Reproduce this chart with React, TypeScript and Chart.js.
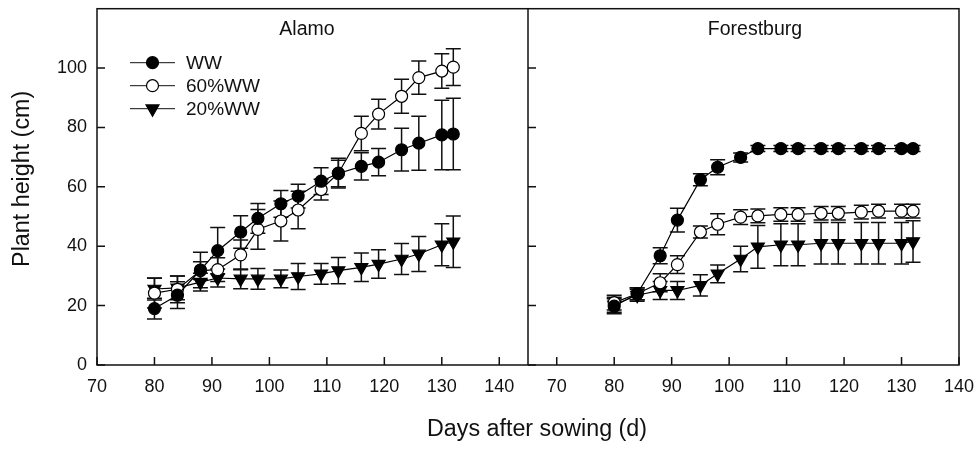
import React, { useEffect, useRef } from 'react';
import { Chart, registerables } from 'chart.js';

Chart.register(...registerables);

const days = [80, 84, 88, 91, 95, 98, 102, 105, 109, 112, 116, 119, 123, 126, 130, 132];
const xTicks = [70, 80, 90, 100, 110, 120, 130, 140];
const yTicks = [0, 20, 40, 60, 80, 100];
const seriesNames = ['WW', '60%WW', '20%WW'];
const panelNames = ['Alamo', 'Forestburg'];

// Alamo
const alamoWW = [19.0, 23.5, 32.0, 38.5, 44.8, 49.4, 54.3, 56.9, 61.9, 64.5, 66.9, 68.3, 72.5, 74.7, 77.5, 77.8];
const alamoWWErr = [3.5, 4.5, 6, 7.8, 5.5, 5, 4.5, 4, 4.5, 4.5, 4.6, 4.6, 7.2, 9.1, 11.7, 12];
const alamo60 = [24.2, 25.5, 31.8, 32.1, 37.1, 45.7, 48.5, 52.2, 59.1, 64.6, 78.0, 84.5, 90.5, 96.8, 99.0, 100.3];
const alamo60Err = [5, 4.5, 3, 4, 5, 6.7, 6.7, 6.3, 3.5, 5, 5.8, 5, 5.7, 5.6, 5.8, 6.2];
const alamo20 = [25.6, 26.0, 27.9, 29.3, 29.0, 29.0, 29.0, 29.8, 30.7, 31.8, 32.9, 34.0, 35.7, 37.4, 40.5, 41.5];
const alamo20Err = [3.7, 4, 3, 3, 3.3, 3.5, 3, 4.4, 3.5, 4.4, 4.8, 4.8, 5.2, 5.9, 7.1, 8.7];

// Forestburg
const forWW = [19.8, 24.0, 36.8, 48.8, 62.4, 66.6, 69.9, 72.9, 72.9, 72.9, 72.9, 72.9, 72.9, 72.9, 72.9, 72.9];
const forWWErr = [2.5, 2, 2.7, 4, 2, 2.5, 1.5, 1, 1, 1, 1, 1, 1, 1, 1, 1];
const for60 = [21.0, 24.0, 27.7, 33.8, 44.8, 47.4, 49.8, 50.2, 50.7, 50.7, 51.1, 51.1, 51.5, 51.8, 51.8, 51.8];
const for60Err = [2.5, 2, 3, 3, 2, 3.5, 2.5, 2.3, 2.3, 2.3, 2.3, 2.3, 2.3, 2.3, 2.3, 2.3];
const for20 = [20.3, 23.5, 25.1, 25.1, 26.8, 30.7, 35.7, 39.8, 40.5, 40.5, 41.0, 41.0, 41.0, 41.0, 41.0, 41.6];
const for20Err = [2.5, 2, 3, 3, 3.6, 3, 4.3, 7.2, 7.1, 7.1, 7, 7, 7, 7, 7, 7];

const FONT = "'Liberation Sans', Arial, sans-serif";
const INK = '#111';

type Style = { fill: string; shape: 'circle' | 'tri' };
const styles: Style[] = [
  { fill: '#000', shape: 'circle' },
  { fill: '#fff', shape: 'circle' },
  { fill: '#000', shape: 'tri' },
];

function drawMarker(ctx: CanvasRenderingContext2D, x: number, y: number, s: Style) {
  ctx.save();
  ctx.beginPath();
  if (s.shape === 'circle') {
    ctx.arc(x, y, 6, 0, Math.PI * 2);
  } else {
    const r = 7.5;
    ctx.moveTo(x, y + r);
    ctx.lineTo(x - r * Math.sin(Math.PI / 3), y - r / 2);
    ctx.lineTo(x + r * Math.sin(Math.PI / 3), y - r / 2);
    ctx.closePath();
  }
  ctx.fillStyle = s.fill;
  ctx.fill();
  ctx.lineWidth = 1.2;
  ctx.strokeStyle = '#000';
  ctx.stroke();
  ctx.restore();
}

const framePlugin = {
  id: 'framePlugin',
  beforeDatasetsDraw(chart: any) {
    const ctx: CanvasRenderingContext2D = chart.ctx;
    const y = chart.scales.y;
    ctx.save();
    ctx.strokeStyle = INK;
    ctx.lineWidth = 1.5;
    chart.data.datasets.forEach((ds: any) => {
      const xs = chart.scales[ds.xAxisID];
      ds.data.forEach((p: any, i: number) => {
        const e = ds.errors[i];
        const px = xs.getPixelForValue(p.x);
        const yt = y.getPixelForValue(p.y + e);
        const yb = y.getPixelForValue(p.y - e);
        ctx.beginPath();
        ctx.moveTo(px, yt);
        ctx.lineTo(px, yb);
        ctx.moveTo(px - 7.5, yt);
        ctx.lineTo(px + 7.5, yt);
        ctx.moveTo(px - 7.5, yb);
        ctx.lineTo(px + 7.5, yb);
        ctx.stroke();
      });
    });
    ctx.restore();
  },
  afterDraw(chart: any) {
    const ctx: CanvasRenderingContext2D = chart.ctx;
    const { left, right, top, bottom } = chart.chartArea;
    const xL = chart.scales.xL;
    const xR = chart.scales.xR;
    const y = chart.scales.y;
    const mid = xL.right;
    ctx.save();
    ctx.strokeStyle = INK;
    ctx.lineWidth = 1.5;
    ctx.strokeRect(left, top, right - left, bottom - top);
    ctx.beginPath();
    ctx.moveTo(mid, top);
    ctx.lineTo(mid, bottom);
    // inward y ticks
    yTicks.forEach((v) => {
      const py = y.getPixelForValue(v);
      ctx.moveTo(left, py);
      ctx.lineTo(left + 8, py);
      ctx.moveTo(mid, py);
      ctx.lineTo(mid + 8, py);
    });
    // inward x ticks
    [xL, xR].forEach((s: any) => {
      xTicks.forEach((v) => {
        const px = s.getPixelForValue(v);
        ctx.moveTo(px, bottom);
        ctx.lineTo(px, bottom - 8);
      });
    });
    ctx.stroke();

    // panel titles
    ctx.fillStyle = INK;
    ctx.font = `19.5px ${FONT}`;
    ctx.textAlign = 'center';
    ctx.textBaseline = 'middle';
    ctx.fillText(panelNames[0], left + 210, top + 21);
    ctx.fillText(panelNames[1], mid + 227, top + 21);

    // legend
    ctx.font = `19px ${FONT}`;
    ctx.textAlign = 'left';
    seriesNames.forEach((name, i) => {
      const ly = top + 54 + i * 23;
      ctx.beginPath();
      ctx.lineWidth = 1;
      ctx.moveTo(left + 33, ly);
      ctx.lineTo(left + 78, ly);
      ctx.stroke();
      drawMarker(ctx, left + 55.5, ly, styles[i]);
      ctx.fillStyle = INK;
      ctx.fillText(name, left + 89, ly + 1);
    });

    // axis titles
    ctx.font = `23.3px ${FONT}`;
    ctx.textAlign = 'center';
    ctx.textBaseline = 'middle';
    ctx.fillText('Days after sowing (d)', (left + right) / 2 + 9, 430);
    ctx.save();
    ctx.translate(23, (top + bottom) / 2 - 8);
    ctx.rotate(-Math.PI / 2);
    ctx.fillText('Plant height (cm)', 0, 0);
    ctx.restore();
    ctx.restore();
  },
};

function makeDataset(label: string, values: number[], errors: number[], axis: string, s: Style) {
  return {
    label,
    data: days.map((d, i) => ({ x: d, y: values[i] })),
    errors,
    xAxisID: axis,
    yAxisID: 'y',
    borderColor: '#000',
    borderWidth: 1.2,
    pointStyle: s.shape === 'circle' ? 'circle' : 'triangle',
    pointRotation: s.shape === 'circle' ? 0 : 180,
    pointRadius: s.shape === 'circle' ? 6 : 7.5,
    pointBackgroundColor: s.fill,
    pointBorderColor: '#000',
    pointBorderWidth: 1.2,
    fill: false,
    tension: 0,
  };
}

function zeroPadding(s: any) {
  s.paddingTop = 0;
  s.paddingBottom = 0;
  s.paddingLeft = 0;
  s.paddingRight = 0;
}

export default function App() {
  const ref = useRef<HTMLCanvasElement>(null);
  useEffect(() => {
    document.body.style.margin = '0';
    const tickFont = { family: FONT, size: 18 };
    const xScale = (min: number, max: number) => ({
      type: 'linear',
      position: 'bottom',
      stack: 'x',
      stackWeight: 1,
      min,
      max,
      afterBuildTicks: (s: any) => {
        s.ticks = xTicks.map((v) => ({ value: v }));
      },
      afterFit: (s: any) => {
        s.height = 84;
        zeroPadding(s);
      },
      grid: { display: false, drawTicks: false },
      border: { display: false },
      ticks: { color: INK, font: tickFont, padding: 11, maxRotation: 0, autoSkip: false },
    });
    const chart = new Chart(ref.current!, {
      type: 'line',
      data: {
        datasets: [
          makeDataset(seriesNames[0], alamoWW, alamoWWErr, 'xL', styles[0]),
          makeDataset(seriesNames[1], alamo60, alamo60Err, 'xL', styles[1]),
          makeDataset(seriesNames[2], alamo20, alamo20Err, 'xL', styles[2]),
          makeDataset(seriesNames[0], forWW, forWWErr, 'xR', styles[0]),
          makeDataset(seriesNames[1], for60, for60Err, 'xR', styles[1]),
          makeDataset(seriesNames[2], for20, for20Err, 'xR', styles[2]),
        ] as any,
      },
      options: {
        animation: false,
        responsive: false,
        devicePixelRatio: 1,
        layout: { padding: { top: 6, right: 21, left: 0, bottom: 0 } },
        plugins: { legend: { display: false }, tooltip: { enabled: false } },
        scales: {
          xL: xScale(70, 145),
          xR: xScale(65, 140),
          y: {
            type: 'linear',
            position: 'left',
            min: 0,
            max: 120,
            afterBuildTicks: (s: any) => {
              s.ticks = yTicks.map((v) => ({ value: v }));
            },
            afterFit: (s: any) => {
              s.width = 97;
              zeroPadding(s);
            },
            grid: { display: false, drawTicks: false },
            border: { display: false },
            ticks: { color: INK, font: tickFont, padding: 10 },
          },
        } as any,
      },
      plugins: [framePlugin],
    });
    return () => chart.destroy();
  }, []);
  return (
    <div style={{ width: 980, height: 449 }}>
      <canvas ref={ref} width={980} height={449} style={{ display: 'block' }} />
    </div>
  );
}
